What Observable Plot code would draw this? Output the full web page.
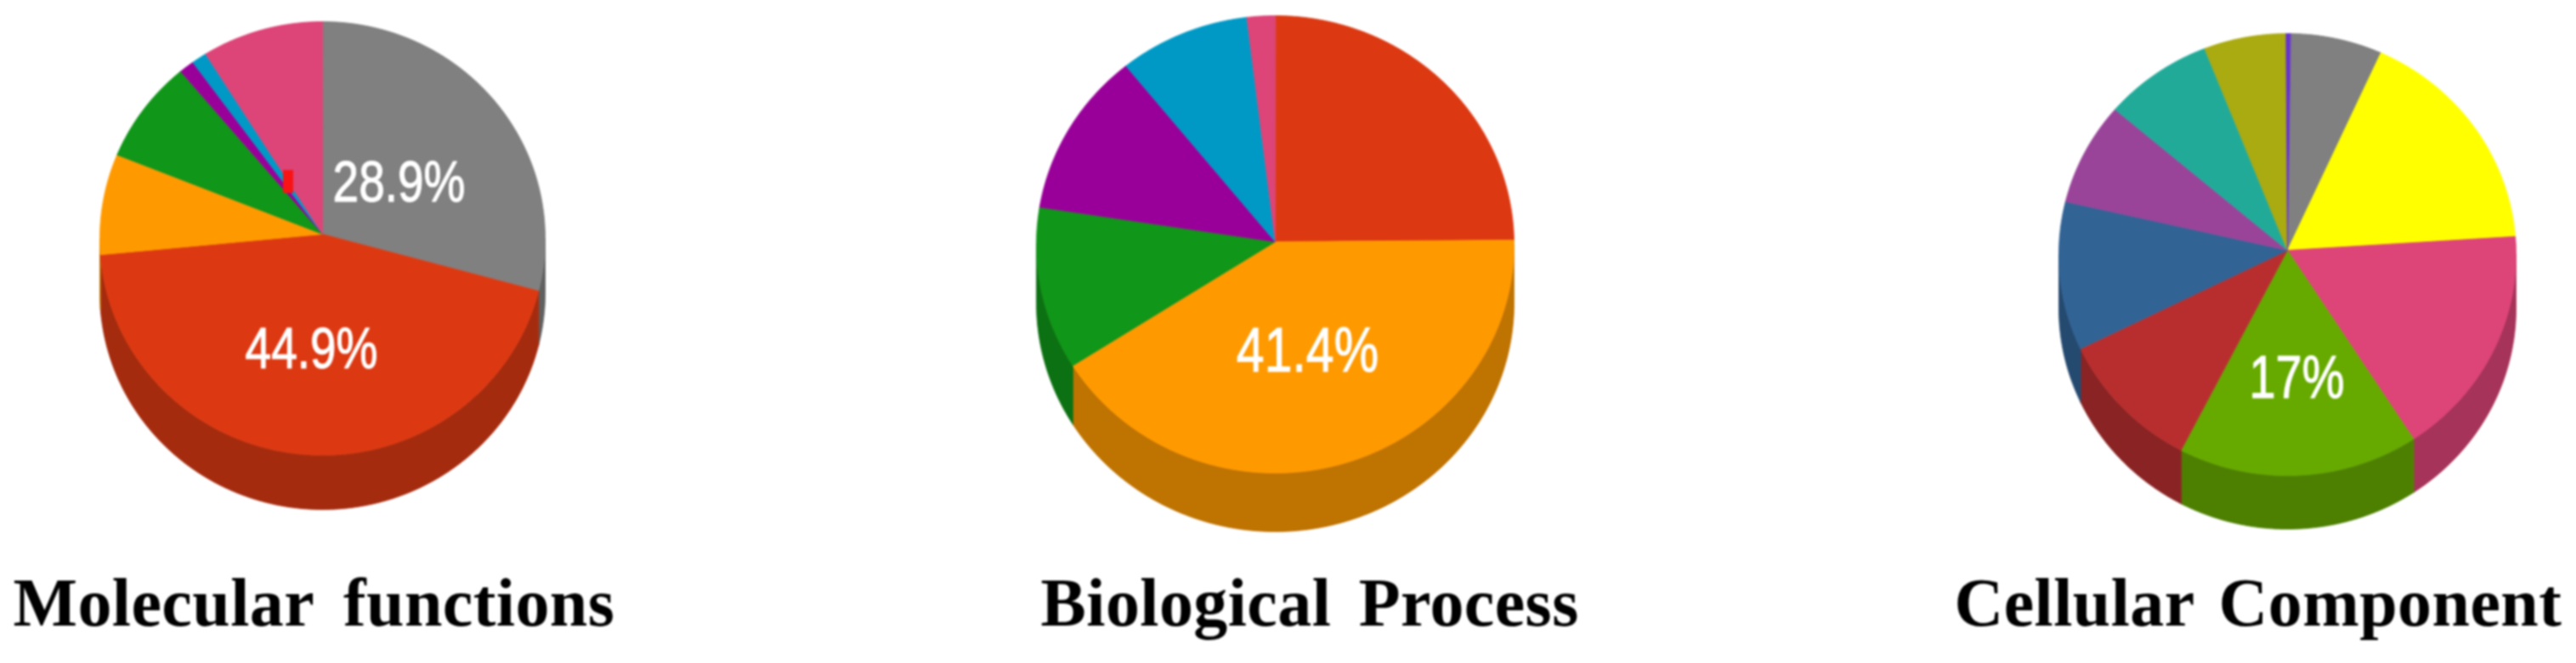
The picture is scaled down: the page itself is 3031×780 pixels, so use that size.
<!DOCTYPE html>
<html>
<head>
<meta charset="utf-8">
<script src="https://cdn.jsdelivr.net/npm/d3@7"></script>
<script src="https://cdn.jsdelivr.net/npm/@observablehq/plot@0.6"></script>
<style>
html,body{margin:0;padding:0;background:#fff;}
svg{display:block;filter:blur(0.9px);}
</style>
</head>
<body>
<div id="chart"></div>
<script>
// Values (percent of each pie), clockwise from 12 o'clock
const molecularValues = [28.9, 44.9, 7.5, 7.7, 1.1, 1.1, 8.8];
const molecularColors = ["#808080", "#dc3912", "#ff9900", "#109618", "#990099", "#0099c6", "#dd4477"];
const biologicalValues = [24.7, 41.4, 11.5, 11.65, 8.85, 1.9];
const biologicalColors = ["#dc3912", "#ff9900", "#109618", "#990099", "#0099c6", "#dd4477"];
const cellularValues = [6.5, 17.0, 17.0, 17.0, 10.3, 10.85, 7.55, 7.7, 5.8, 0.3];
const cellularColors = ["#808080", "#ffff00", "#dd4477", "#66aa00", "#b82e2e", "#316395", "#994499", "#22aa99", "#aaaa11", "#6633cc"];

const titles = ["Molecular functions", "Biological Process", "Cellular Component"];
const percentLabels = ["28.9%", "44.9%", "41.4%", "17%"];

// Pie geometry, in the chart's coordinate system
const pieGeometry = [
  {cx: 379, cy: 280, apexY: 275, rx: 262, ry: 255, depth: 64, rotate: 0},
  {cx: 1500, cy: 287, apexY: 284, rx: 281, ry: 269, depth: 69, rotate: 0},
  {cx: 2691, cy: 299, apexY: 294, rx: 269, ry: 260, depth: 63, rotate: 0.2}
];
const pieData = [
  [molecularValues, molecularColors],
  [biologicalValues, biologicalColors],
  [cellularValues, cellularColors]
];
const labelPositions = [[469, 214, 55], [366, 410, 55], [1538, 412, 59], [2702, 445, 56]];
const titlePositions = [[15, 735], [1224, 735], [2299, 735]];
const titleWordGaps = [15, 12, 9];
const pointerMark = [{x1: 333, x2: 345, y1: 200, y2: 227}];

const faces = [], walls = [];
const toAngle = p => p / 100 * 2 * Math.PI;
pieData.forEach(([values, colors], p) => {
  const g = pieGeometry[p];
  const at = (t, dy = 0) => ({x: g.cx + g.rx * Math.sin(t), y: g.cy - g.ry * Math.cos(t) + dy});
  let start = g.rotate;
  values.forEach((v, i) => {
    const a0 = toAngle(start), a1 = toAngle(start + v);
    start += v;
    const n = Math.max(2, Math.ceil((a1 - a0) * 120));
    const arc = d3.range(n + 1).map(k => a0 + (a1 - a0) * k / n);
    const id = `${p}-${i}`;
    faces.push({id, color: colors[i], x: g.cx, y: g.apexY});
    arc.forEach(t => faces.push({id, color: colors[i], ...at(t)}));
    // Side wall: the part of this slice's rim on the front half of the pie
    const lo = Math.max(a0, Math.PI / 2), hi = Math.min(a1, 3 * Math.PI / 2);
    if (hi > lo) {
      const c = d3.rgb(colors[i]);
      const dark = d3.rgb(c.r * 0.75, c.g * 0.75, c.b * 0.75).formatHex();
      const m = Math.max(2, Math.ceil((hi - lo) * 120));
      const rim = d3.range(m + 1).map(k => lo + (hi - lo) * k / m);
      rim.forEach(t => walls.push({id, color: dark, ...at(t)}));
      rim.slice().reverse().forEach(t => walls.push({id, color: dark, ...at(t, g.depth)}));
    }
  });
});

const labels = percentLabels.map((text, i) => ({text, x: labelPositions[i][0], y: labelPositions[i][1], size: labelPositions[i][2]}));
const titleRows = titles.map((text, i) => ({text, x: titlePositions[i][0], y: titlePositions[i][1]}));

const chart = Plot.plot({
  width: 3031,
  height: 780,
  margin: 0,
  x: {domain: [0, 3031], range: [0, 3031], axis: null},
  y: {domain: [0, 780], range: [0, 780], axis: null},
  color: {type: "identity"},
  style: {background: "#fff"},
  marks: [
    Plot.line(walls, {x: "x", y: "y", z: "id", fill: "color", stroke: "color", strokeWidth: 0.8, curve: "linear-closed"}),
    Plot.line(faces, {x: "x", y: "y", z: "id", fill: "color", stroke: "color", strokeWidth: 0.8, curve: "linear-closed"}),
    Plot.rect(pointerMark, {x1: "x1", x2: "x2", y1: "y1", y2: "y2", fill: "#f81414"}),
    Plot.text(labels, {x: "x", y: "y", text: "text", fill: "#fff", stroke: "#fff", strokeWidth: 0.9, fontSize: "size", fontFamily: "Liberation Sans", textAnchor: "middle", lineAnchor: "middle", className: "pct"}),
    Plot.text(titleRows, {x: "x", y: "y", text: "text", fill: "#000", fontSize: 80, fontWeight: 700, fontFamily: "Liberation Serif", textAnchor: "start", lineAnchor: "bottom", className: "ttl"})
  ]
});
document.getElementById("chart").appendChild(chart);

// The source lettering is stretched vertically and spaced more widely
chart.querySelectorAll(".pct text").forEach(t => {
  const b = t.getBBox(), cy = b.y + b.height / 2, old = t.getAttribute("transform") || "";
  t.setAttribute("transform", `${old} translate(0,${cy}) scale(1,1.26) translate(0,${-cy})`);
});
chart.querySelectorAll(".ttl text").forEach((t, i) => {
  t.style.wordSpacing = titleWordGaps[i] + "px";
  t.style.letterSpacing = "0.4px";
});
</script>
</body>
</html>
